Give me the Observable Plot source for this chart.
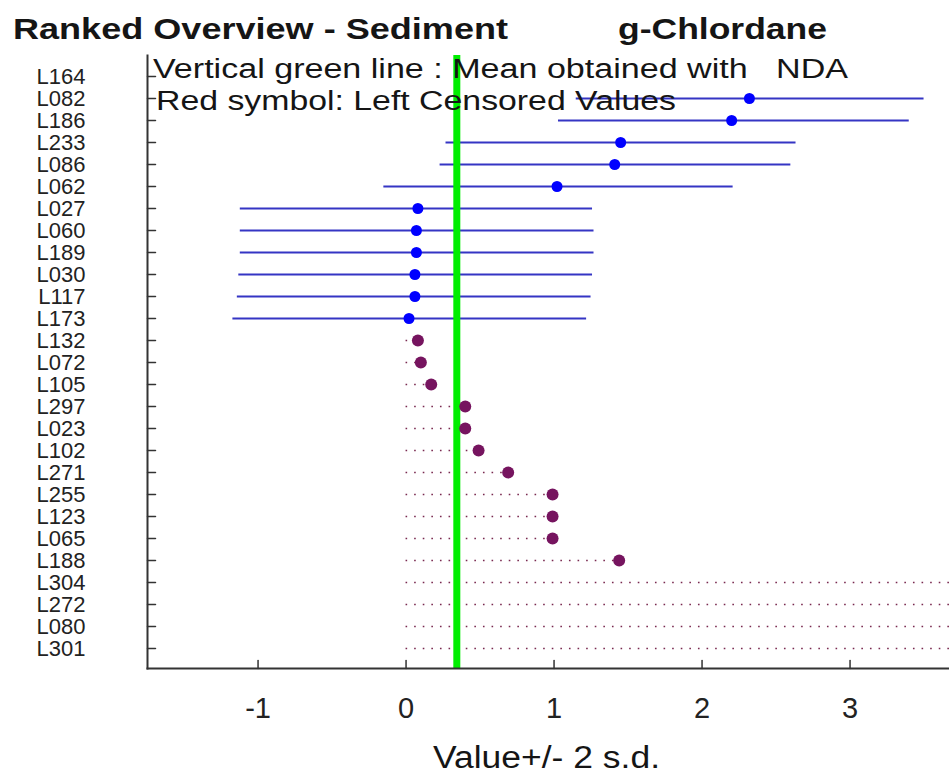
<!DOCTYPE html>
<html>
<head>
<meta charset="utf-8">
<script src="https://cdn.jsdelivr.net/npm/d3@7"></script>
<script src="https://cdn.jsdelivr.net/npm/@observablehq/plot@0.6"></script>
<style>
  body { margin: 0; background: #fff; }
  #chart { width: 949px; height: 775px; }
</style>
</head>
<body>
<div id="chart"></div>
<script>
// Row order (top to bottom)
const labs = ["L164","L082","L186","L233","L086","L062","L027","L060","L189","L030","L117","L173",
              "L132","L072","L105","L297","L023","L102","L271","L255","L123","L065","L188",
              "L304","L272","L080","L301"];

// Measured values with +/- 2 s.d.
const measuredLabs   = ["L082","L186","L233","L086","L062","L027","L060","L189","L030","L117","L173"];
const measuredValues = [2.32, 2.20, 1.45, 1.41, 1.02, 0.08, 0.07, 0.07, 0.06, 0.06, 0.02];
const measuredLo     = [1.15, 1.03, 0.27, 0.23, -0.15, -1.12, -1.12, -1.12, -1.13, -1.14, -1.17];
const measuredHi     = [3.50, 3.40, 2.635, 2.60, 2.21, 1.26, 1.27, 1.27, 1.26, 1.25, 1.22];

// Left censored values (limits)
const censoredLabs   = ["L132","L072","L105","L297","L023","L102","L271","L255","L123","L065","L188",
                        "L304","L272","L080","L301"];
const censoredValues = [0.08, 0.10, 0.17, 0.40, 0.40, 0.49, 0.69, 0.99, 0.99, 0.99, 1.44,
                        4.0, 4.0, 4.0, 4.0];

const meanNDA = [0.343];
const xTicks = [-1, 0, 1, 2, 3];
const xDomain = [-1.747, 3.672];

const measured = measuredLabs.map((lab, i) => ({lab, v: measuredValues[i], lo: measuredLo[i], hi: measuredHi[i]}));
const censored = censoredLabs.map((lab, i) => ({lab, v: censoredValues[i]}));

const tickShape = {draw(ctx, l) { ctx.moveTo(0, 0); ctx.lineTo(0, -l); }};
const axisColor = "#333";

const plot = Plot.plot({
  width: 949,
  height: 775,
  marginTop: 55,
  marginBottom: 107,
  marginLeft: 147,
  marginRight: 0,
  style: {fontFamily: "Arial, 'Liberation Sans', sans-serif", background: "#fff", color: "#222", overflow: "visible"},
  x: {domain: xDomain},
  y: {type: "point", domain: labs, padding: 0.93},
  marks: [
    Plot.ruleY(censored, {y: "lab", x1: 0, x2: "v", stroke: "#7a2a50", strokeWidth: 1.6, strokeDasharray: "1.6,7", clip: true}),
    Plot.ruleY(measured, {y: "lab", x1: "lo", x2: "hi", stroke: "#3535c4", strokeWidth: 2, clip: true}),
    Plot.ruleX(meanNDA, {x: d => d, stroke: "#00ee00", strokeWidth: 7}),
    Plot.dot(measured, {x: "v", y: "lab", r: 5.5, fill: "#0000ff", clip: true}),
    Plot.dot(censored, {x: "v", y: "lab", r: 6, fill: "#76145f", clip: true}),
    Plot.axisY({tickSize: 0, tickPadding: 62, fontSize: 22, label: null, fill: "#222"}),
    Plot.axisX({ticks: xTicks, tickSize: 0, tickPadding: 29, fontSize: 29, label: null, tickFormat: d => String(d), fill: "#222"}),
    Plot.vector(labs, {y: d => d, frameAnchor: "left", length: 8, rotate: 90, anchor: "start", shape: tickShape, stroke: axisColor, strokeWidth: 1.5}),
    Plot.vector(xTicks, {x: d => d, frameAnchor: "bottom", length: 8, anchor: "start", shape: tickShape, stroke: axisColor, strokeWidth: 1.5}),
    Plot.frame({anchor: "left", stroke: axisColor, strokeWidth: 2}),
    Plot.frame({anchor: "bottom", stroke: axisColor, strokeWidth: 2})
  ]
});

document.getElementById("chart").appendChild(plot);

const svg = d3.select(plot);
function addText(str, x, y, size, weight, len) {
  svg.append("text")
    .attr("x", x).attr("y", y)
    .attr("font-size", size)
    .attr("font-weight", weight)
    .attr("text-anchor", "start")
    .attr("textLength", len)
    .attr("lengthAdjust", "spacingAndGlyphs")
    .attr("fill", "#151515")
    .style("white-space", "pre")
    .attr("font-family", "Arial, 'Liberation Sans', sans-serif")
    .text(str);
}
addText("Ranked Overview - Sediment", 13, 39, 30, "bold", 495);
addText("g-Chlordane", 618, 39, 30, "bold", 209);
addText("Vertical green line : Mean obtained with   NDA", 153, 78, 27, "normal", 695);
addText("Red symbol: Left Censored Values", 156, 110, 27, "normal", 520);
addText("Value+/- 2 s.d.", 433, 768, 31, "normal", 227);
</script>
</body>
</html>
